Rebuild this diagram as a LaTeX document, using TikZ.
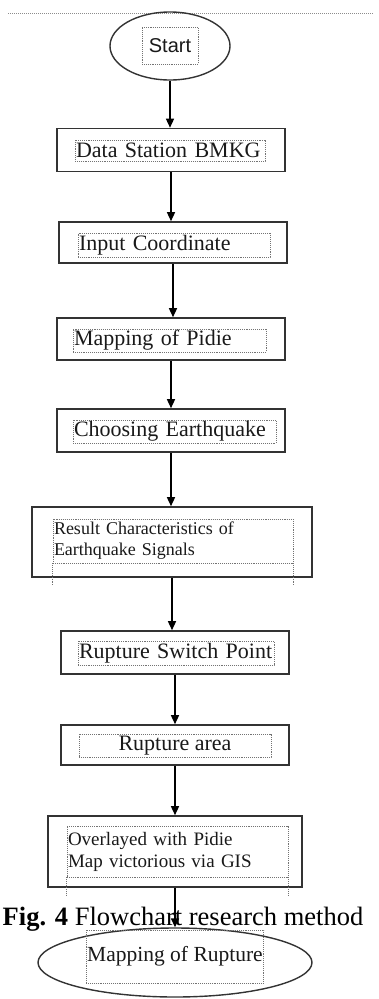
\documentclass[tikz,border=0pt]{standalone}
\usepackage{fontspec}
\setmainfont{Liberation Serif}
\newfontfamily\startfont{Liberation Sans}
\usetikzlibrary{shapes.geometric}
\usetikzlibrary{arrows.meta}

\tikzset{
	stepbox/.style={draw=black!80, line width=1.6pt, minimum width=228pt, minimum height=43pt, inner sep=0pt},
	termbox/.style={ellipse, draw=black!80, line width=1.4pt, inner sep=0pt},
	txtframe/.style={draw=black!55, densely dotted, line width=0.9pt, inner xsep=1pt, inner ysep=0pt, text=black!90, font=\fontsize{22}{25}\selectfont, align=left},
	twoline/.style={font=\fontsize{19}{22}\selectfont},
	tick/.style={draw=black!55, densely dotted, line width=0.9pt},
	flow/.style={-{Triangle[width=8pt,length=9pt]}, line width=1.4pt, black},
}

\begin{document}
\begin{tikzpicture}[x=1pt,y=-1pt]
		\useasboundingbox (0,0) rectangle (378,999);
		
		% draw dotted line on top
		\draw[black!45, densely dotted, line width=1pt] (8,13) -- (374,13);
		
		% draw outer shapes
		\node[termbox, minimum width=120pt, minimum height=68pt] (start) at (170,46) {};
		\node[stepbox] (data) at (171,150) {};
		\node[stepbox, minimum height=41pt] (coord) at (173,242.5) {};
		\node[stepbox, minimum height=42pt] (pidie) at (171,339) {};
		\node[stepbox] (choose) at (171,430.5) {};
		\node[stepbox, minimum width=280pt, minimum height=70pt] (signals) at (172,542) {};
		\node[stepbox] (point) at (175,652.5) {};
		\node[stepbox, minimum height=40pt] (area) at (175,745) {};
		\node[stepbox, minimum width=254pt, minimum height=71pt] (overlay) at (175,851.5) {};
		\node[termbox, minimum width=274pt, minimum height=69pt] (rupture) at (175,962.5) {};
		
		% draw text frames
		\node[txtframe, minimum width=56pt, minimum height=37pt, align=center, font=\startfont\fontsize{20}{22}\selectfont] (tstart) at (170,45.5) {Start};
		\node[txtframe, text width=188pt, minimum height=21pt] (tdata) at (170,150.5) {Data Station BMKG};
		\node[txtframe, text width=190pt, minimum height=24pt] (tcoord) at (174,245) {Input Coordinate};
		\node[txtframe, text width=191pt, minimum height=23pt] (tpidie) at (169.5,340.5) {Mapping of Pidie};
		\node[txtframe, text width=201pt, minimum height=23pt] (tchoose) at (174.5,431.5) {Choosing Earthquake};
		\node[txtframe, twoline, font=\fontsize{18}{21}\selectfont, text width=238pt, minimum height=44pt] (tsignals) at (173,541) {Result Characteristics of\\Earthquake Signals};
		\node[txtframe, text width=194pt, minimum height=24pt] (tpoint) at (176,653) {Rupture Switch Point};
		\node[txtframe, minimum width=192pt, minimum height=23pt, align=center] (tarea) at (175,745.5) {Rupture area};
		\node[txtframe, twoline, text width=219pt, minimum height=51pt] (toverlay) at (177.5,851.5) {Overlayed with Pidie\\Map victorious via GIS};
		\node[txtframe, minimum width=166pt, minimum height=53pt, align=center, font=\fontsize{21.5}{24}\selectfont] (trupture) at (175,956.5) {Mapping of Rupture};
		
		% draw frame ticks
		\foreach \f/\l in {tsignals/21,toverlay/18}
		{
			\draw[tick] (\f.south west) -- ++(0,\l);
			\draw[tick] (\f.south east) -- ++(0,\l);
		}
		
		% draw caption
		\node[font=\fontsize{26.5}{30}\selectfont, anchor=base, inner sep=0pt] (caption) at (183,925) {\textbf{Fig. 4} Flowchart research method};
		
		% draw arrows
		\foreach \a/\b in {start/data,data/coord,coord/pidie,pidie/choose,choose/signals,signals/point,point/area,area/overlay,overlay/rupture}
		\draw[flow] (\a.south) -- (\a.south |- \b.north);
		
\end{tikzpicture}
\end{document}
